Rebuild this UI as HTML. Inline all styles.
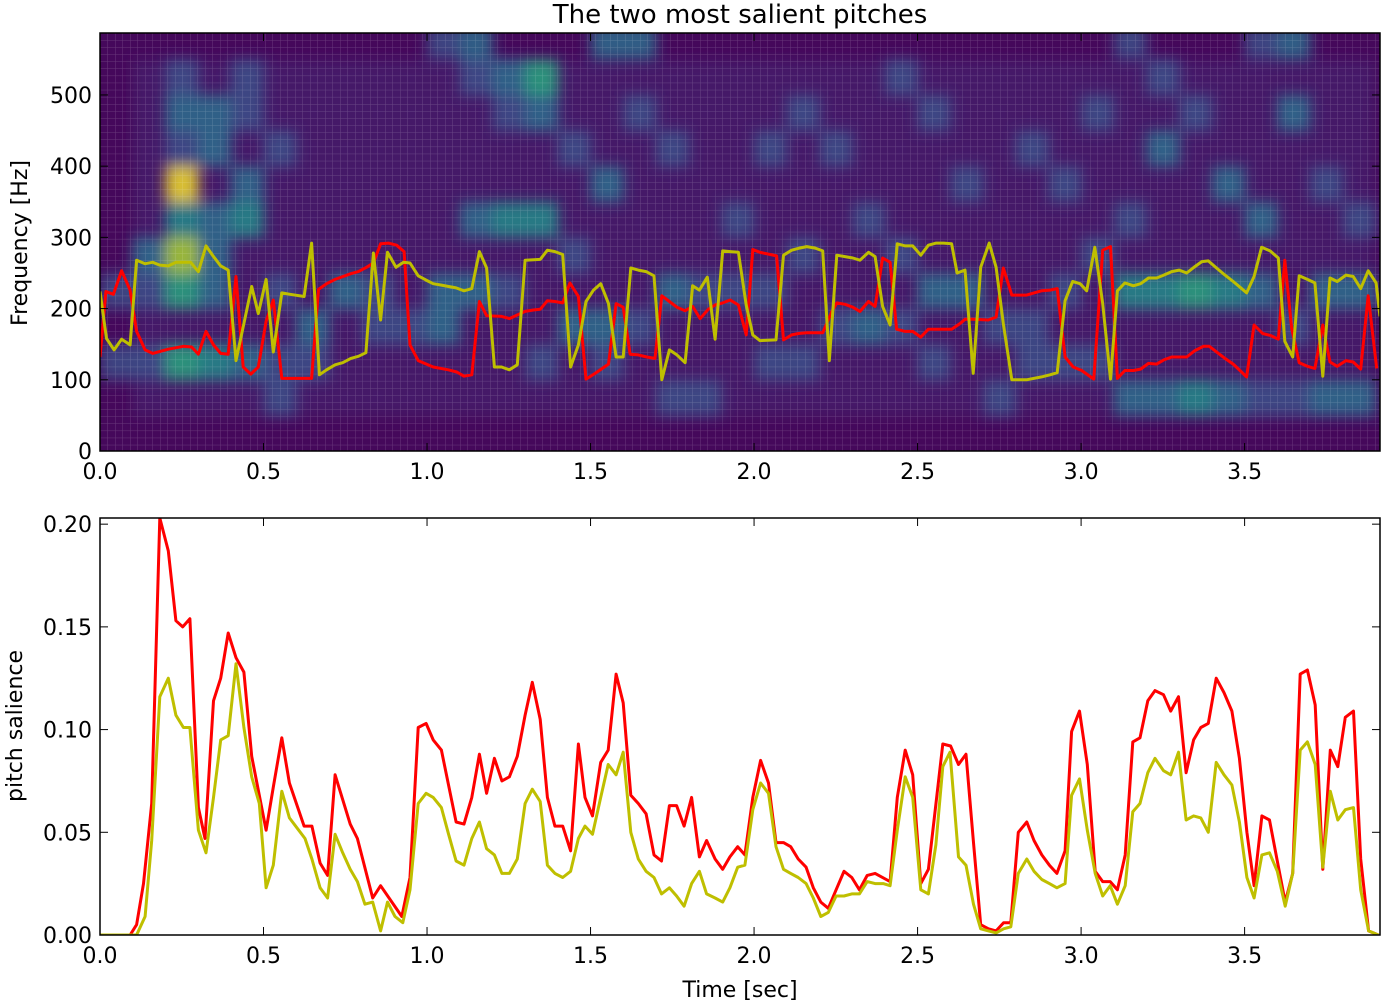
<!DOCTYPE html>
<html><head><meta charset="utf-8"><style>
html,body{margin:0;padding:0;background:#fff;width:1382px;height:1002px;overflow:hidden}
svg text{font-family:"DejaVu Sans","Liberation Sans",sans-serif;fill:#000}
</style></head><body>
<svg id="chart" width="1382" height="1002" xmlns="http://www.w3.org/2000/svg">
<defs>
<clipPath id="clipTop"><rect x="100" y="33" width="1280" height="418"/></clipPath>
<clipPath id="clipBot"><rect x="100" y="518" width="1280" height="417"/></clipPath>
<filter id="soft" x="-5%" y="-5%" width="110%" height="110%"><feGaussianBlur stdDeviation="7"/></filter>
<pattern id="gridPat" x="100" y="33" width="7.5" height="7.1" patternUnits="userSpaceOnUse">
<path d="M0 0V7.1M0 0H7.5" stroke="#fff" stroke-opacity="0.2" stroke-width="1" fill="none"/>
</pattern>
</defs>
<text x="740" y="23" font-size="26" text-anchor="middle">The two most salient pitches</text>
<g id="topPanel"></g>
<g id="botPanel"></g>
<text transform="translate(27,243) rotate(-90)" font-size="22" text-anchor="middle">Frequency [Hz]</text>
<text transform="translate(22,726) rotate(-90)" font-size="22" text-anchor="middle">pitch salience</text>
<text x="740" y="997" font-size="22" text-anchor="middle">Time [sec]</text>
</svg>
<script>
const xTicks=[0.0,0.5,1.0,1.5,2.0,2.5,3.0,3.5];
const freqTicks=[0,100,200,300,400,500];
const salTicks=[0.00,0.05,0.10,0.15,0.20];
const viridis=["#440154","#472c7a","#3b528b","#2c728e","#21918c","#28ae80","#5ec962","#addc30","#d8e219","#fde725"];
const heatSpots=[[0,2,2],[0,4,2],[1,2,2],[1,4,2],[1,5,3],[2,7,9],[2,6,4],[2,5,7],[2,4,5],[2,2,5],[2,8,2],[2,9,3],[2,10,2],
[3,2,4],[3,4,3],[3,5,3],[3,6,3],[3,8,3],[3,9,3],[4,2,3],[4,6,4],[4,7,3],[4,9,2],[4,10,2],[5,1,2],[5,2,2],[5,4,2],[5,8,2],
[6,3,3],[6,2,2],[7,4,3],[8,4,2],[8,3,2],[9,3,2],[10,4,3],[10,3,3],[10,11,2],[11,4,3],[11,6,3],[11,10,2],[11,11,3],
[12,6,4],[12,4,2],[12,9,2],[12,10,3],[13,6,4],[13,10,5],[13,9,3],[13,2,2],[14,3,3],[14,5,2],[14,8,2],[15,3,3],[15,2,2],[15,7,3],[15,11,3],
[16,3,2],[16,11,3],[16,9,2],[17,4,3],[17,8,2],[17,1,2],[18,4,2],[18,1,2],[19,4,2],[19,6,2],[20,4,2],[20,2,2],[20,8,2],
[21,2,2],[21,5,2],[21,9,2],[22,3,2],[22,8,2],[23,3,3],[23,6,2],[24,3,2],[24,5,2],[24,10,2],[25,4,3],[25,2,2],[25,9,2],
[26,4,3],[26,7,2],[27,3,2],[27,1,2],[28,3,2],[28,2,2],[28,8,2],[29,2,2],[29,4,2],[29,7,2],[30,2,2],[30,5,2],[30,9,2],
[31,1,3],[31,4,4],[31,6,2],[31,11,2],[32,1,3],[32,4,4],[32,8,3],[32,10,2],[33,1,4],[33,4,5],[33,9,2],[34,1,3],[34,4,4],[34,7,3],
[35,1,2],[35,4,3],[35,6,3],[35,11,2],[36,1,2],[36,3,2],[36,9,3],[36,11,3],[37,1,3],[37,4,3],[37,7,2],[38,1,3],[38,4,3],[38,6,2]];
const pitchRed=[[0,132],[.018,224],[.041,220],[.066,253],[.092,226],[.112,168],[.138,142],[.161,137],[.209,143],[.255,147],[.280,146],[.301,136],[.324,168],[.347,149],[.369,137],[.392,136],[.416,245],[.438,118],[.461,108],[.484,118],[.508,182],[.530,212],[.556,102],[.579,102],[.647,102],[.668,227],[.693,235],[.719,241],[.767,249],[.790,252],[.815,258],[.836,264],[.858,291],[.882,292],[.907,289],[.930,280],[.948,149],[.973,127],[1.019,118],[1.065,114],[1.091,111],[1.113,105],[1.137,107],[1.160,210],[1.182,190],[1.228,189],[1.252,186],[1.276,191],[1.300,196],[1.325,198],[1.346,199],[1.368,211],[1.391,210],[1.415,208],[1.437,236],[1.463,217],[1.486,101],[1.514,109],[1.555,122],[1.578,207],[1.600,202],[1.621,136],[1.646,135],[1.672,132],[1.697,130],[1.718,218],[1.741,210],[1.764,202],[1.789,197],[1.812,203],[1.835,186],[1.860,199],[1.881,205],[1.904,208],[1.927,212],[1.952,205],[1.976,163],[1.996,283],[2.018,279],[2.069,274],[2.090,156],[2.115,163],[2.136,165],[2.161,166],[2.187,166],[2.210,166],[2.238,196],[2.253,208],[2.278,206],[2.302,202],[2.324,196],[2.350,210],[2.370,203],[2.393,271],[2.416,265],[2.436,171],[2.462,168],[2.485,168],[2.510,160],[2.533,171],[2.557,171],[2.579,171],[2.604,171],[2.630,179],[2.645,185],[2.670,185],[2.716,184],[2.740,188],[2.762,257],[2.788,219],[2.833,219],[2.879,225],[2.905,226],[2.927,228],[2.951,132],[2.976,118],[3.002,113],[3.039,101],[3.066,282],[3.090,287],[3.111,102],[3.134,113],[3.160,113],[3.182,115],[3.206,123],[3.231,122],[3.253,128],[3.277,132],[3.302,132],[3.323,132],[3.348,141],[3.374,147],[3.392,147],[3.417,138],[3.440,130],[3.465,122],[3.486,113],[3.506,104],[3.529,177],[3.555,165],[3.580,162],[3.603,157],[3.623,268],[3.644,172],[3.667,124],[3.692,119],[3.715,116],[3.739,177],[3.761,125],[3.783,119],[3.810,127],[3.832,125],[3.855,115],[3.878,218],[3.904,116]];
const pitchYellow=[[0,224],[.020,158],[.043,142],[.066,157],[.092,149],[.112,268],[.138,263],[.161,265],[.183,261],[.209,260],[.232,265],[.277,265],[.301,252],[.324,288],[.347,273],[.369,260],[.392,254],[.416,127],[.440,179],[.464,231],[.484,193],[.508,241],[.530,139],[.556,222],[.581,220],[.624,217],[.647,292],[.671,107],[.693,114],[.719,121],[.742,124],[.767,130],[.790,133],[.813,138],[.836,278],[.858,184],[.879,279],[.905,258],[.928,265],[.948,264],[.973,246],[.997,240],[1.019,235],[1.044,233],[1.066,231],[1.089,229],[1.113,225],[1.137,228],[1.160,280],[1.182,257],[1.206,118],[1.228,118],[1.252,114],[1.276,121],[1.300,268],[1.346,269],[1.368,282],[1.391,280],[1.415,276],[1.439,118],[1.463,149],[1.486,210],[1.509,226],[1.531,235],[1.555,207],[1.578,132],[1.600,132],[1.623,257],[1.646,254],[1.670,252],[1.694,246],[1.718,100],[1.741,142],[1.764,135],[1.789,124],[1.812,232],[1.833,226],[1.857,244],[1.881,157],[1.904,281],[1.927,280],[1.952,279],[1.976,205],[1.996,163],[2.018,155],[2.067,156],[2.090,275],[2.115,282],[2.139,285],[2.161,287],[2.187,285],[2.210,281],[2.230,127],[2.253,275],[2.278,273],[2.302,271],[2.324,268],[2.350,279],[2.370,273],[2.393,203],[2.416,177],[2.438,291],[2.462,288],[2.485,288],[2.510,275],[2.533,289],[2.557,292],[2.579,292],[2.604,291],[2.621,250],[2.645,254],[2.670,109],[2.693,258],[2.719,292],[2.740,258],[2.762,179],[2.788,100],[2.833,100],[2.879,104],[2.905,107],[2.927,110],[2.951,211],[2.974,238],[2.997,235],[3.017,225],[3.042,286],[3.066,207],[3.090,101],[3.111,225],[3.134,236],[3.160,232],[3.182,235],[3.206,243],[3.231,243],[3.253,247],[3.277,252],[3.300,254],[3.323,250],[3.348,259],[3.369,266],[3.389,267],[3.414,257],[3.440,247],[3.465,238],[3.486,230],[3.506,222],[3.529,245],[3.552,286],[3.578,281],[3.603,271],[3.623,154],[3.647,132],[3.667,246],[3.692,241],[3.715,236],[3.739,105],[3.761,243],[3.783,238],[3.810,247],[3.832,245],[3.855,228],[3.878,253],[3.902,236],[3.914,189]];
const salRed=[[0,0],[.092,0],[.112,.005],[.133,.025],[.158,.064],[.183,.203],[.209,.187],[.232,.153],[.253,.150],[.275,.154],[.301,.062],[.321,.047],[.347,.114],[.369,.125],[.392,.147],[.416,.135],[.440,.128],[.464,.087],[.508,.051],[.530,.072],[.556,.096],[.579,.074],[.624,.053],[.648,.053],[.673,.035],[.696,.029],[.719,.078],[.765,.054],[.787,.047],[.834,.018],[.858,.024],[.923,.009],[.948,.028],[.973,.101],[.997,.103],[1.019,.095],[1.044,.090],[1.089,.055],[1.113,.054],[1.137,.067],[1.160,.088],[1.182,.069],[1.206,.086],[1.229,.075],[1.252,.077],[1.276,.087],[1.300,.107],[1.322,.123],[1.346,.105],[1.368,.067],[1.391,.053],[1.415,.053],[1.439,.041],[1.463,.093],[1.483,.067],[1.506,.058],[1.531,.084],[1.554,.090],[1.578,.127],[1.600,.113],[1.623,.068],[1.646,.064],[1.670,.059],[1.694,.039],[1.717,.036],[1.741,.063],[1.763,.063],[1.786,.053],[1.809,.067],[1.833,.038],[1.855,.046],[1.881,.037],[1.904,.032],[1.926,.038],[1.950,.043],[1.972,.039],[1.996,.067],[2.020,.085],[2.044,.074],[2.067,.045],[2.090,.045],[2.112,.043],[2.135,.037],[2.159,.033],[2.181,.023],[2.204,.016],[2.227,.013],[2.251,.022],[2.275,.031],[2.299,.028],[2.322,.022],[2.346,.029],[2.370,.030],[2.416,.026],[2.438,.067],[2.462,.090],[2.485,.078],[2.510,.025],[2.533,.032],[2.577,.093],[2.601,.092],[2.625,.083],[2.648,.088],[2.671,.045],[2.693,.005],[2.717,.003],[2.740,.002],[2.763,.006],[2.785,.006],[2.808,.050],[2.834,.055],[2.856,.046],[2.880,.039],[2.903,.034],[2.926,.030],[2.951,.041],[2.971,.099],[2.995,.109],[3.019,.083],[3.043,.031],[3.066,.026],[3.089,.026],[3.111,.022],[3.135,.039],[3.158,.094],[3.180,.096],[3.204,.114],[3.226,.119],[3.252,.117],[3.274,.109],[3.298,.116],[3.321,.079],[3.344,.095],[3.366,.101],[3.389,.103],[3.413,.125],[3.437,.118],[3.461,.109],[3.484,.086],[3.507,.050],[3.529,.024],[3.553,.058],[3.576,.056],[3.600,.036],[3.624,.016],[3.647,.030],[3.670,.127],[3.692,.129],[3.716,.112],[3.739,.032],[3.762,.090],[3.785,.082],[3.808,.106],[3.833,.109],[3.855,.037],[3.879,.002],[3.909,0]];
const salYellow=[[0,0],[.112,0],[.138,.009],[.158,.046],[.183,.116],[.209,.125],[.232,.107],[.255,.101],[.275,.101],[.301,.051],[.324,.040],[.347,.067],[.369,.095],[.392,.097],[.416,.132],[.440,.101],[.464,.077],[.487,.064],[.508,.023],[.530,.034],[.556,.070],[.579,.057],[.603,.052],[.627,.047],[.648,.037],[.673,.023],[.696,.018],[.719,.049],[.742,.040],[.765,.032],[.787,.026],[.810,.015],[.834,.016],[.858,.002],[.879,.016],[.902,.009],[.926,.006],[.948,.022],[.973,.064],[.997,.069],[1.019,.067],[1.044,.062],[1.066,.049],[1.089,.036],[1.113,.034],[1.137,.047],[1.160,.055],[1.182,.042],[1.206,.039],[1.229,.030],[1.252,.030],[1.276,.037],[1.300,.064],[1.322,.071],[1.346,.065],[1.368,.034],[1.391,.030],[1.415,.028],[1.439,.031],[1.463,.047],[1.483,.053],[1.506,.049],[1.531,.067],[1.554,.083],[1.578,.078],[1.600,.089],[1.623,.050],[1.646,.037],[1.670,.031],[1.694,.028],[1.717,.020],[1.741,.023],[1.763,.019],[1.786,.014],[1.809,.025],[1.833,.031],[1.855,.020],[1.881,.018],[1.904,.016],[1.926,.023],[1.950,.033],[1.972,.034],[1.996,.061],[2.020,.074],[2.044,.069],[2.067,.043],[2.090,.032],[2.112,.030],[2.135,.028],[2.159,.025],[2.181,.018],[2.204,.009],[2.227,.011],[2.251,.019],[2.275,.019],[2.299,.020],[2.322,.020],[2.346,.026],[2.370,.025],[2.395,.025],[2.416,.024],[2.438,.051],[2.462,.077],[2.485,.067],[2.510,.022],[2.533,.020],[2.556,.044],[2.577,.082],[2.599,.089],[2.625,.038],[2.648,.034],[2.671,.015],[2.693,.003],[2.717,.002],[2.740,.001],[2.763,.003],[2.785,.004],[2.808,.030],[2.834,.037],[2.856,.031],[2.880,.027],[2.903,.025],[2.926,.023],[2.951,.025],[2.971,.068],[2.995,.076],[3.019,.051],[3.043,.030],[3.066,.019],[3.089,.024],[3.111,.015],[3.135,.024],[3.158,.060],[3.180,.064],[3.204,.079],[3.226,.086],[3.252,.080],[3.274,.078],[3.298,.089],[3.321,.056],[3.344,.058],[3.366,.057],[3.389,.050],[3.413,.084],[3.437,.078],[3.461,.073],[3.484,.055],[3.507,.028],[3.529,.018],[3.553,.039],[3.576,.040],[3.600,.031],[3.624,.014],[3.647,.030],[3.670,.090],[3.692,.094],[3.716,.083],[3.739,.033],[3.762,.070],[3.785,.056],[3.808,.061],[3.833,.062],[3.855,.022],[3.879,.002],[3.909,0]];

const NS="http://www.w3.org/2000/svg";
const X0=100,X1=1380,TMAX=3.914;
const xs=t=>X0+t/TMAX*(X1-X0);
const TY0=451,TY1=33,FMAX=587;
const yf=f=>TY0-f/FMAX*(TY0-TY1);
const BY0=935,BY1=518,SMAX=0.203;
const ys=v=>BY0-v/SMAX*(BY0-BY1);
function mk(tag,attrs,parent){const e=document.createElementNS(NS,tag);for(const k in attrs)e.setAttribute(k,attrs[k]);parent.appendChild(e);return e;}
const topG=document.getElementById('topPanel'),botG=document.getElementById('botPanel');

// heatmap
const hm=mk('g',{'clip-path':'url(#clipTop)'},topG);


mk('rect',{x:X0,y:TY1,width:X1-X0,height:TY0-TY1,fill:'#45085b'},hm);
const nCols=39,colW=0.1,rowH=50;
const baseG=mk('g',{filter:'url(#soft)'},hm);
for(let c=1;c<nCols;c++)for(let r=1;r<11;r++){
  const cell=mk('rect',{x:xs(c*colW),y:yf((r+1)*rowH),width:xs((c+1)*colW)-xs(c*colW)+0.5,height:yf(r*rowH)-yf((r+1)*rowH)+0.5,fill:viridis[1],opacity:0.45},baseG);
  
  
}
const spotG=mk('g',{filter:'url(#soft)'},hm);
heatSpots.forEach(([c,r,v])=>{
  const cell=mk('rect',{x:xs(c*colW),y:yf((r+1)*rowH),width:xs((c+1)*colW)-xs(c*colW)+0.5,height:yf(r*rowH)-yf((r+1)*rowH)+0.5,fill:viridis[v],opacity:0.8},spotG);
  
  
});
mk('rect',{x:X0,y:TY1,width:X1-X0,height:TY0-TY1,fill:'url(#gridPat)'},hm);

function drawLine(g,data,sx,sy,color,clip,name){
  const p=mk('polyline',{points:data.map(d=>sx(d[0]).toFixed(1)+','+sy(d[1]).toFixed(1)).join(' '),fill:'none',stroke:color,'stroke-width':3,'stroke-linejoin':'round','clip-path':clip},g);
  
  
}
drawLine(topG,pitchRed,xs,yf,'#ff0000','url(#clipTop)','pitch-line-1');
drawLine(topG,pitchYellow,xs,yf,'#bfbf00','url(#clipTop)','pitch-line-2');
drawLine(botG,salRed,xs,ys,'#ff0000','url(#clipBot)','salience-line-1');
drawLine(botG,salYellow,xs,ys,'#bfbf00','url(#clipBot)','salience-line-2');

function axes(g,yTop,yBot,yTicks,yfun,fmt,nm){
  const fr=mk('rect',{x:X0,y:yTop,width:X1-X0,height:yBot-yTop,fill:'none',stroke:'#000','stroke-width':1.5},g);
  
  
  xTicks.forEach(t=>{
    const x=xs(t);
    mk('line',{x1:x,y1:yBot,x2:x,y2:yBot-8,stroke:'#000','stroke-width':1},g);
    mk('line',{x1:x,y1:yTop,x2:x,y2:yTop+8,stroke:'#000','stroke-width':1},g);
    const tx=mk('text',{x:x,y:yBot+28,'font-size':22,'text-anchor':'middle'},g);
    tx.textContent=t.toFixed(1);
    
    
  });
  yTicks.forEach(v=>{
    const y=yfun(v);
    mk('line',{x1:X0,y1:y,x2:X0+8,y2:y,stroke:'#000','stroke-width':1},g);
    mk('line',{x1:X1,y1:y,x2:X1-8,y2:y,stroke:'#000','stroke-width':1},g);
    const tx=mk('text',{x:X0-8,y:y+8,'font-size':22,'text-anchor':'end'},g);
    tx.textContent=fmt(v);
    
    
  });
}
axes(topG,TY1,TY0,freqTicks,yf,v=>String(v),'top-axes');
axes(botG,BY1,BY0,salTicks,ys,v=>v.toFixed(2),'bottom-axes');
</script>
</body></html>
